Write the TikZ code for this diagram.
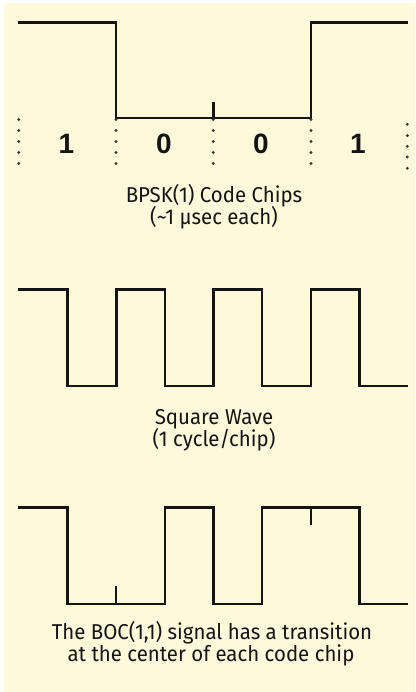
\documentclass[tikz,border=0pt]{standalone}
\usepackage{fontspec}
\setmainfont{Fira Sans}[FakeStretch=0.95]
\newfontfamily\digitfont{Liberation Sans}[BoldFont={* Bold}]
\definecolor{cream}{RGB}{255,249,219}
\definecolor{ink}{RGB}{20,20,20}
\tikzset{
  wave/.style={draw=ink, line width=2.8pt, line join=miter, line cap=butt},
  tickmark/.style={draw=ink, line width=2.8pt},
  chipdot/.style={fill=ink!85, draw=none},
  caption/.style={font=\fontsize{21.5}{22}\selectfont, text=ink, anchor=base, inner sep=0pt},
  digit/.style={font=\digitfont\bfseries\fontsize{28}{28}\selectfont, text=ink, anchor=base, inner sep=0pt}
}
\begin{document}
\begin{tikzpicture}[x=1pt, y=-1pt]
\useasboundingbox (0,0) rectangle (415,692);
\fill[white] (0,0) rectangle (415,692);
\fill[cream] (4,3) rectangle (415,692);

% ---- BPSK(1) code chips ----
\draw[wave] (18,22.7) -- (116,22.7) -- (116,118) -- (311,118) -- (311,22.7) -- (408,22.7);
\draw[tickmark] (213.3,118) -- (213.3,102);
\foreach \cx in {18.8,116,213.3,311} {
  \foreach \cy in {119.5,130.5,141.5,152.5,163.5}
    \fill[chipdot] (\cx,\cy) circle (1.6);
}
\foreach \cy in {124.3,135.6,146.3,157,168.3}
  \fill[chipdot] (407.3,\cy) circle (1.6);
\node[digit] (d1) at (66.5,154) {1};
\node[digit] (d2) at (164,154) {0};
\node[digit] (d3) at (261,154) {0};
\node[digit] (d4) at (358,154) {1};
\node[caption] (cap1a) at (214,202.7) {BPSK(1) Code Chips};
\node[caption] (cap1b) at (214,224.8) {(\textasciitilde1 µsec each)};

% ---- Square wave ----
\draw[wave] (18,289.3) -- (67.5,289.3) -- (67.5,386) -- (116.5,386) -- (116.5,289.3)
  -- (165,289.3) -- (165,386) -- (213.3,386) -- (213.3,289.3) -- (262,289.3)
  -- (262,386) -- (311,386) -- (311,289.3) -- (359.3,289.3) -- (359.3,386) -- (408,386);
\node[caption] (cap2a) at (214,424) {Square Wave};
\node[caption] (cap2b) at (214,446) {(1 cycle/chip)};

% ---- BOC(1,1) ----
\draw[wave] (18,507.3) -- (67.5,507.3) -- (67.5,604) -- (165,604) -- (165,507.3)
  -- (213.3,507.3) -- (213.3,604) -- (262,604) -- (262,507.3) -- (359.3,507.3)
  -- (359.3,604) -- (408,604);
\draw[tickmark] (116,604) -- (116,586);
\draw[tickmark] (311,507.3) -- (311,525);
\node[caption] (cap3a) at (212,639) {The BOC(1,1) signal has a transition};
\node[caption] (cap3b) at (211,661) {at the center of each code chip};
\end{tikzpicture}
\end{document}
